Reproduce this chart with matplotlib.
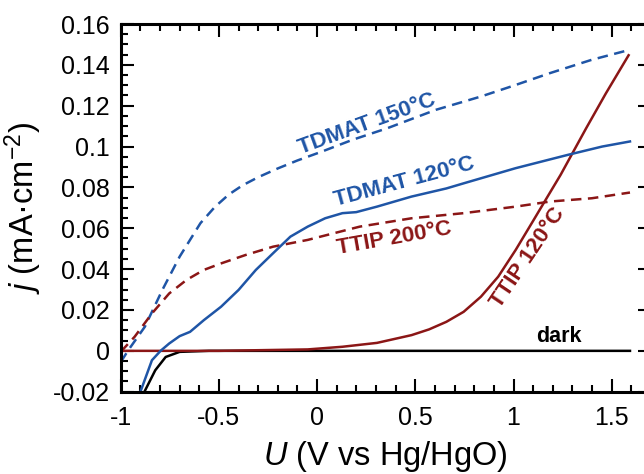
import matplotlib
matplotlib.use("Agg")
import matplotlib.pyplot as plt
from matplotlib.ticker import MultipleLocator, FuncFormatter

plt.rcParams['font.family'] = ['Liberation Sans', 'DejaVu Sans']
plt.rcParams['mathtext.fontset'] = 'custom'
plt.rcParams['mathtext.rm'] = 'Liberation Sans'
plt.rcParams['mathtext.it'] = 'Liberation Sans:italic'

# ---- data ----
tdmat150_u = [-1.0, -0.96, -0.877, -0.788, -0.70, -0.594, -0.52, -0.45, -0.38, -0.30, -0.20, -0.10,
              0.023, 0.18, 0.358, 0.605, 0.834, 1.0, 1.187, 1.399, 1.593]
tdmat150_j = [-0.0055, 0.0005, 0.0118, 0.0298, 0.0461, 0.0625, 0.0705, 0.0765, 0.081, 0.085, 0.0893, 0.0932,
              0.0975, 0.1033, 0.109, 0.118, 0.1245, 0.1298, 0.136, 0.1425, 0.1474]

tdmat120_u = [-0.898, -0.841, -0.797, -0.753, -0.70, -0.647, -0.577, -0.489, -0.40, -0.312, -0.224,
              -0.136, -0.048, 0.041, 0.129, 0.199, 0.305, 0.48, 0.658, 0.746, 1.01, 1.275, 1.451, 1.593]
tdmat120_j = [-0.0196, -0.0046, 0.0, 0.0036, 0.0072, 0.0093, 0.015, 0.0216, 0.0298, 0.0396, 0.0478,
              0.0559, 0.0608, 0.0649, 0.0674, 0.0679, 0.0706, 0.0755, 0.0795, 0.082, 0.0894, 0.0959, 0.100, 0.1025]

ttip200_u = [-1.0, -0.929, -0.841, -0.753, -0.665, -0.577, -0.489, -0.365, -0.224, -0.048, 0.217,
             0.481, 0.746, 1.011, 1.187, 1.399, 1.593]
ttip200_j = [-0.0005, 0.0069, 0.0183, 0.0281, 0.0347, 0.0396, 0.0428, 0.0469, 0.051, 0.0543, 0.0608,
             0.0649, 0.0674, 0.0706, 0.0731, 0.0747, 0.0775]

ttip120_u = [-1.0, -0.5, -0.048, 0.129, 0.305, 0.481, 0.57, 0.658, 0.746, 0.834, 0.922, 1.011,
             1.099, 1.169, 1.24, 1.293, 1.37, 1.47, 1.586]
ttip120_j = [0.0, 0.0, 0.0007, 0.002, 0.0039, 0.0077, 0.0105, 0.0142, 0.0191, 0.0265, 0.0363, 0.0494,
             0.0635, 0.0748, 0.0862, 0.0955, 0.109, 0.126, 0.1447]

dark_u = [-0.877, -0.824, -0.771, -0.70, -0.55, 1.593]
dark_j = [-0.0196, -0.0095, -0.003, -0.0005, 0.0, 0.0]

xticks = [-1, -0.5, 0, 0.5, 1, 1.5]
yticks = [-0.02, 0, 0.02, 0.04, 0.06, 0.08, 0.1, 0.12, 0.14, 0.16]

blue = '#1f55a6'
red = '#8b1616'

fig = plt.figure(figsize=(6.44, 4.74), dpi=100)
ax = fig.add_axes([120.7 / 644, 82.3 / 474, (651 - 120.7) / 644, (391.7 - 24) / 474])

lw = 1.8
dash = (0, (4.2, 2.6))
ax.plot(tdmat150_u, tdmat150_j, color=blue, lw=lw, linestyle=dash)
ax.plot(ttip200_u, ttip200_j, color=red, lw=lw, linestyle=dash)
ax.plot(dark_u, dark_j, color='black', lw=lw)
ax.plot(ttip120_u, ttip120_j, color=red, lw=lw)
ax.plot(tdmat120_u, tdmat120_j, color=blue, lw=lw)

ax.set_xlim(-1, 1.7)
ax.set_ylim(-0.02, 0.16)
ax.set_xticks(xticks)
ax.set_yticks(yticks)
ax.xaxis.set_minor_locator(MultipleLocator(0.1))
ax.yaxis.set_minor_locator(MultipleLocator(0.005))

def fmt(v, pos):
    s = ('%.2f' % v).rstrip('0').rstrip('.')
    if s == '-0':
        s = '0'
    return s

ax.xaxis.set_major_formatter(FuncFormatter(fmt))
ax.yaxis.set_major_formatter(FuncFormatter(fmt))

ax.tick_params(which='both', direction='in', top=True, right=True, width=1.5, labelsize=18)
ax.tick_params(which='major', length=9.5)
ax.tick_params(which='minor', length=5)
ax.tick_params(axis='y', pad=8)
ax.tick_params(axis='x', pad=10)
for s in ax.spines.values():
    s.set_linewidth(2.2)

ax.set_xlabel(r'$U$ (V vs Hg/HgO)', fontsize=23.5, labelpad=6.5)
ax.set_ylabel(r'$j$ (mA·cm$^{-2}$)', fontsize=23.5, labelpad=6)

tkw = dict(fontsize=16, fontweight='bold', ha='center', va='center', rotation_mode='anchor')
ax.text(0.252, 0.1110, 'TDMAT 150°C', color=blue, rotation=20, **tkw)
ax.text(0.443, 0.0825, 'TDMAT 120°C', color=blue, rotation=15, **tkw)
ax.text(0.393, 0.0548, 'TTIP 200°C', color=red, rotation=10, **tkw)
ax.text(1.075, 0.0455, 'TTIP 120°C', color=red, rotation=56, **tkw)
ax.text(1.231, 0.0069, 'dark', color='black', fontsize=15.5, fontweight='bold', ha='center', va='center')

fig.savefig('out.png', dpi=100)
